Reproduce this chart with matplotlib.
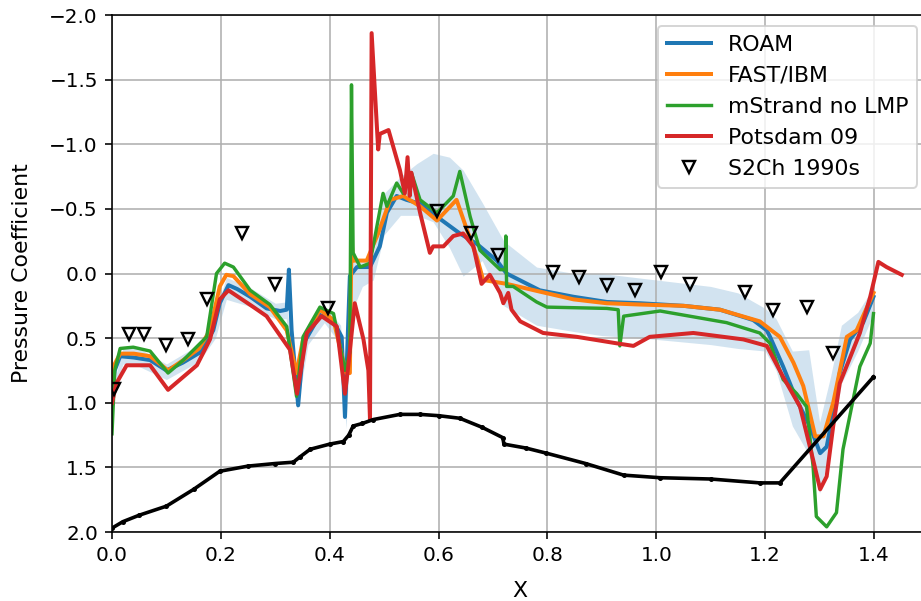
import numpy as np
import matplotlib
matplotlib.use("Agg")
import matplotlib.pyplot as plt

# %%
## data (x, Cp)
roam_x = [0.0, 0.005, 0.015, 0.04, 0.07, 0.10, 0.13, 0.162, 0.186, 0.198, 0.214, 0.23,
          0.254, 0.284, 0.309, 0.321, 0.325, 0.330, 0.342, 0.352, 0.382, 0.407, 0.422,
          0.428, 0.437, 0.45, 0.474, 0.492, 0.505, 0.523, 0.541, 0.566, 0.597, 0.639,
          0.67, 0.707, 0.725, 0.786, 0.848, 0.909, 0.97, 1.05, 1.117, 1.178, 1.203,
          1.209, 1.233, 1.258, 1.282, 1.301, 1.313, 1.325, 1.337, 1.356, 1.38, 1.399]
roam_cp = [0.95, 0.75, 0.64, 0.65, 0.67, 0.75, 0.69, 0.61, 0.44, 0.23, 0.09, 0.12,
           0.18, 0.27, 0.29, 0.28, -0.03, 0.44, 1.02, 0.54, 0.32, 0.37, 0.49,
           1.11, 0.02, -0.05, -0.05, -0.21, -0.47, -0.6, -0.57, -0.54, -0.44, -0.31,
           -0.23, -0.1, 0.0, 0.13, 0.18, 0.22, 0.23, 0.25, 0.28, 0.36, 0.44,
           0.49, 0.72, 0.98, 1.18, 1.39, 1.34, 1.08, 0.77, 0.51, 0.38, 0.18]

band_x = [0.0, 0.02, 0.05, 0.10, 0.16, 0.19, 0.21, 0.25, 0.30, 0.32, 0.34, 0.36, 0.39,
          0.42, 0.43, 0.44, 0.46, 0.48, 0.50, 0.53, 0.56, 0.59, 0.62, 0.645, 0.68,
          0.72, 0.78, 0.85, 0.90, 1.0, 1.1, 1.15, 1.2, 1.22, 1.25, 1.28, 1.30, 1.32,
          1.34, 1.37, 1.40]
band_top = [0.9, 0.58, 0.58, 0.7, 0.55, 0.3, 0.03, 0.1, 0.23, 0.22, 0.85, 0.4, 0.25,
            0.4, 0.9, -0.1, -0.1, -0.15, -0.62, -0.75, -0.85, -0.93, -0.9, -0.8, -0.55,
            -0.25, -0.05, 0.0, 0.0, 0.05, 0.1, 0.15, 0.27, 0.35, 0.6, 0.59, 1.15, 0.8,
            0.4, 0.3, 0.1]
band_bot = [1.0, 0.7, 0.72, 0.82, 0.68, 0.5, 0.2, 0.25, 0.35, 0.35, 1.05, 0.55, 0.38,
            0.55, 1.2, 0.3, 0.1, 0.05, -0.3, -0.45, -0.45, -0.4, -0.2, 0.02, -0.1,
            0.25, 0.4, 0.45, 0.48, 0.51, 0.55, 0.58, 0.6, 0.75, 1.18, 1.4, 1.7, 1.35,
            0.85, 0.6, 0.3]

fast_x = [0.0, 0.005, 0.015, 0.04, 0.07, 0.103, 0.131, 0.16, 0.18, 0.198, 0.21, 0.223,
          0.254, 0.29, 0.321, 0.339, 0.351, 0.382, 0.407, 0.43, 0.437, 0.44, 0.443,
          0.468, 0.489, 0.511, 0.535, 0.566, 0.597, 0.633, 0.652, 0.67, 0.682, 0.725,
          0.786, 0.848, 0.909, 0.97, 1.05, 1.117, 1.19, 1.227, 1.252, 1.27, 1.282,
          1.292, 1.307, 1.325, 1.35, 1.368, 1.399]
fast_cp = [0.85, 0.7, 0.62, 0.62, 0.64, 0.75, 0.67, 0.58, 0.44, 0.1, 0.01, 0.02,
           0.16, 0.26, 0.44, 0.77, 0.51, 0.28, 0.36, 0.77, 0.77, -0.26, -0.1,
           -0.1, -0.31, -0.57, -0.6, -0.52, -0.41, -0.57, -0.34, -0.13, 0.05, 0.08,
           0.14, 0.2, 0.23, 0.24, 0.25, 0.28, 0.37, 0.49, 0.69, 0.87, 1.08,
           1.26, 1.26, 1.0, 0.49, 0.44, 0.15]

mstrand_x = [0.0, 0.005, 0.015, 0.039, 0.07, 0.103, 0.131, 0.174, 0.192, 0.207, 0.223,
             0.254, 0.29, 0.321, 0.339, 0.351, 0.382, 0.407, 0.428, 0.437, 0.44, 0.443,
             0.456, 0.474, 0.498, 0.505, 0.523, 0.535, 0.55, 0.566, 0.597, 0.627, 0.639,
             0.658, 0.676, 0.713, 0.7225, 0.7235, 0.725, 0.737, 0.78, 0.799, 0.909,
             0.93, 0.933, 0.94, 1.007, 1.129, 1.19, 1.209, 1.233, 1.258, 1.276, 1.288,
             1.294, 1.313, 1.331, 1.343, 1.374, 1.393, 1.399]
mstrand_cp = [1.24, 0.75, 0.58, 0.57, 0.60, 0.77, 0.67, 0.49, 0.0, -0.08, -0.05,
              0.13, 0.24, 0.41, 0.95, 0.49, 0.26, 0.31, 0.75, 0.61, -1.46, -0.16,
              -0.05, -0.08, -0.62, -0.52, -0.70, -0.62, -0.78, -0.57, -0.47, -0.6, -0.79,
              -0.44, -0.18, -0.03, -0.03, -0.29, 0.1, 0.1, 0.22, 0.26, 0.27,
              0.28, 0.56, 0.33, 0.29, 0.38, 0.46, 0.54, 0.82, 0.93, 1.03, 1.49,
              1.88, 1.96, 1.85, 1.36, 0.72, 0.54, 0.31]

potsdam_x = [0.0, 0.008, 0.027, 0.07, 0.103, 0.156, 0.18, 0.198, 0.214, 0.26, 0.284,
             0.327, 0.34, 0.358, 0.385, 0.413, 0.428, 0.434, 0.446, 0.462, 0.471, 0.474,
             0.477, 0.489, 0.492, 0.508, 0.529, 0.538, 0.543, 0.547, 0.55, 0.566, 0.584,
             0.59, 0.609, 0.627, 0.645, 0.664, 0.679, 0.694, 0.713, 0.719, 0.728, 0.734,
             0.75, 0.792, 0.854, 0.927, 0.958, 0.988, 1.068, 1.16, 1.203, 1.233, 1.264,
             1.288, 1.301, 1.313, 1.325, 1.337, 1.374, 1.393, 1.408, 1.423, 1.451]
potsdam_cp = [1.0, 0.85, 0.71, 0.71, 0.9, 0.71, 0.51, 0.2, 0.13, 0.26, 0.33,
              0.59, 0.93, 0.46, 0.33, 0.41, 0.93, 0.72, 0.23, 0.51, 0.75, 1.13,
              -1.86, -0.96, -1.08, -1.11, -0.8, -0.62, -0.9, -0.6, -0.78, -0.47, -0.16,
              -0.21, -0.21, -0.29, -0.31, -0.21, 0.08, 0.01, 0.15, 0.23, 0.15, 0.28,
              0.37, 0.46, 0.49, 0.54, 0.56, 0.49, 0.46, 0.51, 0.56, 0.8, 1.03,
              1.44, 1.67, 1.57, 1.18, 0.85, 0.46, 0.18, -0.09, -0.05, 0.01]

s2ch_x = [0.003, 0.032, 0.059, 0.099, 0.14, 0.175, 0.239, 0.30, 0.397, 0.598, 0.66,
          0.71, 0.811, 0.858, 0.909, 0.961, 1.009, 1.062, 1.163, 1.215, 1.276, 1.325]
s2ch_cp = [0.89, 0.47, 0.47, 0.55, 0.51, 0.2, -0.31, 0.08, 0.27, -0.48, -0.31,
           -0.14, -0.015, 0.03, 0.09, 0.127, -0.015, 0.083, 0.14, 0.28, 0.256, 0.617]

geom_x = [0.0, 0.02, 0.05, 0.10, 0.15, 0.198, 0.25, 0.30, 0.333, 0.345, 0.364, 0.40,
          0.425, 0.435, 0.443, 0.46, 0.48, 0.529, 0.566, 0.60, 0.639, 0.68, 0.718,
          0.72, 0.76, 0.798, 0.87, 0.94, 1.007, 1.10, 1.19, 1.227, 1.399]
geom_cp = [1.97, 1.92, 1.87, 1.80, 1.67, 1.53, 1.49, 1.47, 1.46, 1.42, 1.36, 1.32,
           1.30, 1.25, 1.18, 1.16, 1.13, 1.09, 1.09, 1.10, 1.12, 1.19, 1.27,
           1.32, 1.35, 1.39, 1.47, 1.56, 1.58, 1.59, 1.62, 1.62, 0.80]

# %%
fig = plt.figure(figsize=(921 / 144, 601 / 144), dpi=144)
ax = fig.add_axes([0.1216, 0.1148, 0.8865, 0.8602])

ax.fill_between(band_x, band_top, band_bot, color="tab:blue", alpha=0.2, lw=0)
ax.plot(roam_x, roam_cp, color="tab:blue", lw=2, label="ROAM")
ax.plot(fast_x, fast_cp, color="tab:orange", lw=2, label="FAST/IBM")
ax.plot(mstrand_x, mstrand_cp, color="tab:green", lw=1.7, label="mStrand no LMP")
ax.plot(potsdam_x, potsdam_cp, color="tab:red", lw=2, label="Potsdam 09")
ax.plot(s2ch_x, s2ch_cp, ls="none", marker="v", ms=6, mfc="none", mec="black",
        mew=1.2, label="S2Ch 1990s")
ax.plot(geom_x, geom_cp, color="black", lw=1.8, marker=".", ms=3)

ax.set(xlim=(0, 1.5), ylim=(2.0, -2.0))
ax.set_xlabel("X", fontsize=11)
ax.set_ylabel("Pressure Coefficient", fontsize=11)
ax.yaxis.set_label_coords(-0.098, 0.5)
ax.xaxis.set_label_coords(0.5, -0.095)
ax.set_xticks([0.0, 0.2, 0.4, 0.6, 0.8, 1.0, 1.2, 1.4])
ax.grid(True)
ax.legend(loc="upper right", fontsize=11)
fig.savefig("out.png", dpi=144)
